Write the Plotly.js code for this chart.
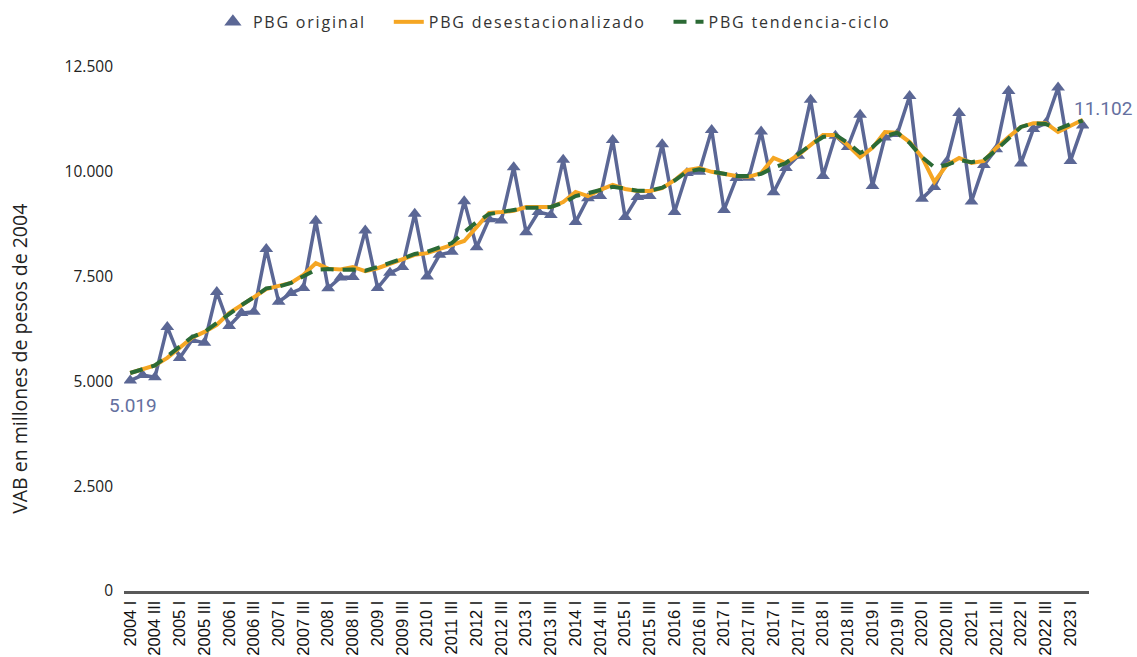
<!DOCTYPE html>
<html>
<head>
<meta charset="utf-8">
<script src="https://cdn.plot.ly/plotly-3.0.1.min.js"></script>
<style>
html,body{margin:0;padding:0;background:#fff;}
#chart{width:1137px;height:657px;}
.legendtext{letter-spacing:1.8px;}
</style>
</head>
<body>
<div id="chart"></div>
<script>
// Tick labels exactly as printed on the reference (every second quarter)
const tickLabels = [
  "2004 I","2004 III","2005 I","2005 III","2006 I","2006 III","2007 I","2007 III",
  "2008 I","2008 III","2009 I","2009 III","2010 I","2011 III","2012 I","2012 III",
  "2013 I","2013 III","2014 I","2014 III","2015 I","2015 III","2016 I","2016 III",
  "2017 I","2017 III","2017 I","2017 III","2018 I","2018 III","2019 I","2019 III",
  "2020 I","2020 III","2021 I","2021 III","2022 I","2022 III","2023 I"
];

// PBG original (quarterly, 2004 I - 2023 II)
const pbgOriginal = [
  5019, 5150, 5100, 6300, 5560, 5990, 5920, 7130, 6320, 6630,
  6660, 8160, 6900, 7110, 7230, 8830, 7220, 7480, 7490, 8600,
  7230, 7590, 7730, 9000, 7500, 8020, 8090, 9300, 8200, 8870,
  8840, 10110, 8560, 9040, 8970, 10290, 8800, 9370, 9420, 10760,
  8920, 9400, 9420, 10660, 9040, 9970, 10000, 11000, 9090, 9850,
  9860, 10960, 9510, 10090, 10380, 11720, 9900, 10860, 10590, 11360,
  9660, 10820, 10900, 11810, 9360, 9640, 10240, 11400, 9290, 10160,
  10540, 11930, 10200, 11020, 11160, 12010, 10260, 11102
];

// PBG desestacionalizado
const pbgDesest = [
  5200, 5300, 5380, 5560, 5800, 6040, 6180, 6350, 6630, 6820,
  7010, 7200, 7280, 7350, 7540, 7820, 7690, 7670, 7730, 7630,
  7700, 7800, 7920, 8020, 8060, 8160, 8250, 8350, 8680, 9020,
  9040, 9070, 9160, 9160, 9160, 9280, 9520, 9420, 9570, 9690,
  9590, 9540, 9540, 9610, 9800, 10040, 10090, 10000, 9950, 9900,
  9880, 9970, 10330, 10210, 10400, 10640, 10880, 10880, 10640, 10350,
  10570, 10950, 10930, 10710, 10350, 9760, 10160, 10330, 10210, 10260,
  10570, 10830, 11070, 11160, 11160, 10950, 11100, 11240
];

// PBG tendencia-ciclo
const pbgTendencia = [
  5200, 5280, 5380, 5600, 5840, 6060, 6180, 6390, 6620, 6820,
  7010, 7220, 7260, 7350, 7510, 7660, 7680, 7660, 7670, 7640,
  7730, 7820, 7930, 8040, 8090, 8200, 8300, 8560, 8800, 8990,
  9040, 9090, 9140, 9140, 9160, 9260, 9420, 9490, 9570, 9640,
  9600, 9550, 9550, 9620, 9790, 10000, 10060, 10000, 9950, 9900,
  9900, 9950, 10100, 10210, 10420, 10640, 10830, 10880, 10690, 10450,
  10590, 10850, 10930, 10690, 10350, 10110, 10160, 10280, 10230, 10280,
  10520, 10800, 11070, 11160, 11140, 11020, 11140, 11220
];

const yTicks = [0, 2500, 5000, 7500, 10000, 12500];

const blue = '#5B6795';
const orange = '#F5A623';
const green = '#2B6A35';

const xs = pbgOriginal.map((_, i) => i);
const tickVals = tickLabels.map((_, k) => 2 * k);
const pad = '\u00a0\u00a0\u00a0';

function fmt(v) {
  return String(Math.round(v)).replace(/\B(?=(\d{3})+(?!\d))/g, '.');
}

const traces = [
  {
    x: xs, y: pbgOriginal, mode: 'lines+markers', name: 'PBG original',
    showlegend: false,
    line: {color: blue, width: 3.5},
    marker: {symbol: 'triangle-up', size: 12, color: blue}
  },
  {
    x: [null], y: [null], mode: 'markers', name: 'PBG original' + pad,
    marker: {symbol: 'triangle-up', size: 15, color: blue}
  },
  {
    x: xs, y: pbgDesest, mode: 'lines', name: 'PBG desestacionalizado' + pad,
    line: {color: orange, width: 4}
  },
  {
    x: xs, y: pbgTendencia, mode: 'lines', name: 'PBG tendencia-ciclo',
    line: {color: green, width: 4, dash: '13px,9px'}
  }
];

const last = pbgOriginal.length - 1;

const layout = {
  width: 1137, height: 657,
  margin: {l: 124, r: 48, t: 67, b: 66, autoexpand: false},
  paper_bgcolor: '#ffffff', plot_bgcolor: '#ffffff',
  separators: ',.',
  showlegend: true,
  legend: {
    orientation: 'h', x: 0.446, xanchor: 'center', y: 1.086, yanchor: 'middle',
    font: {family: 'Open Sans, sans-serif', size: 16, color: '#333333'},
    traceorder: 'normal', itemwidth: 30
  },
  xaxis: {
    range: [-0.5, 77.5],
    tickmode: 'array', tickvals: tickVals, ticktext: tickLabels,
    tickangle: -90,
    tickfont: {family: 'Liberation Sans, Arial, sans-serif', size: 16.5, color: '#111111'},
    showgrid: false, zeroline: false,
    showline: true, linecolor: '#595959', linewidth: 3,
    ticks: '', fixedrange: true
  },
  yaxis: {
    range: [0, 12500],
    tickmode: 'array', tickvals: yTicks, ticktext: yTicks.map(fmt),
    tickfont: {family: 'Open Sans, sans-serif', size: 15.5, color: '#222222'},
    showgrid: false, zeroline: false, showline: false,
    ticks: '', ticklabelstandoff: 10, fixedrange: true
  },
  annotations: [
    {
      xref: 'paper', yref: 'paper', x: -0.1078, y: 0.443,
      text: 'VAB en millones de pesos de 2004', textangle: -90,
      showarrow: false, xanchor: 'center', yanchor: 'middle',
      font: {family: 'Open Sans, sans-serif', size: 19.5, color: '#222222'}
    },
    {
      xref: 'x', yref: 'y', x: 0, y: pbgOriginal[0],
      text: fmt(pbgOriginal[0]), showarrow: false,
      xshift: 3, yshift: -25,
      font: {family: 'Roboto, sans-serif', size: 19, color: '#6470A0'}
    },
    {
      xref: 'x', yref: 'y', x: last, y: pbgOriginal[last],
      text: fmt(pbgOriginal[last]), showarrow: false,
      xshift: 20, yshift: 17,
      font: {family: 'Roboto, sans-serif', size: 19, color: '#6470A0'}
    }
  ]
};

Plotly.newPlot('chart', traces, layout, {displayModeBar: false, staticPlot: true});
</script>
</body>
</html>
